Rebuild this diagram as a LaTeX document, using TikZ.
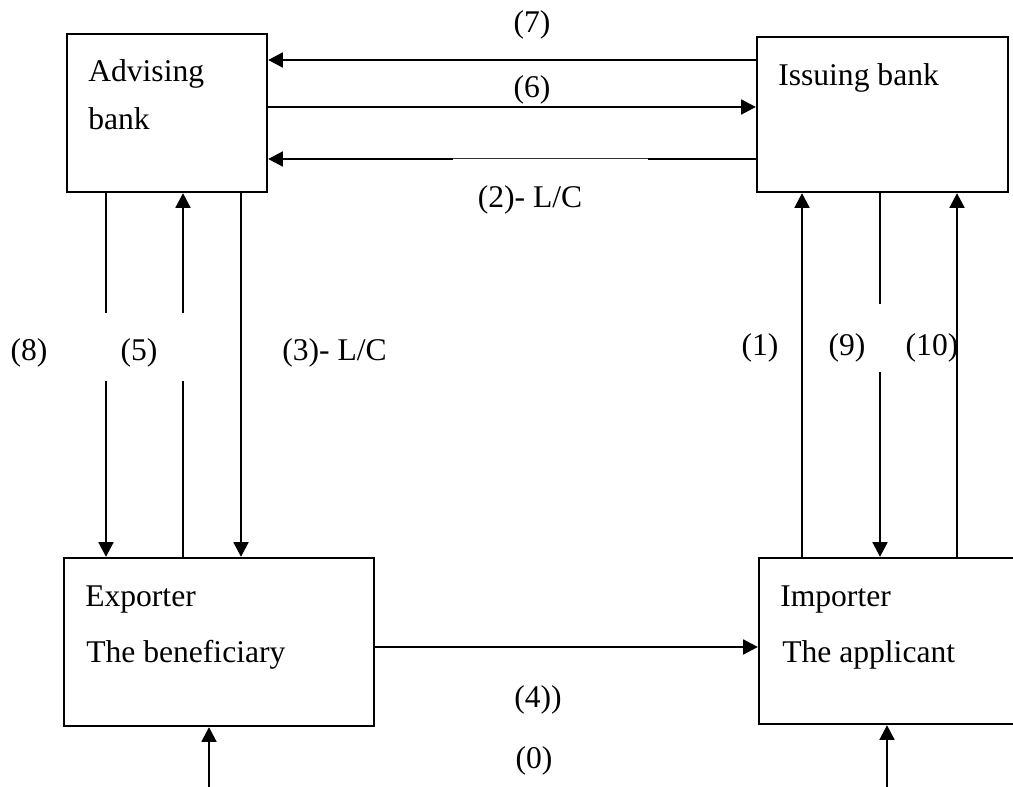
\documentclass[tikz,border=0pt]{standalone}
\usepackage{fontspec}
\setmainfont{Liberation Serif}
\usetikzlibrary{arrows.meta}
\begin{document}
\begin{tikzpicture}[x=0.75pt,y=-0.75pt,
  box/.style={draw, line width=1.7pt, inner sep=0pt},
  txt/.style={inner sep=0pt, font=\fontsize{23.7pt}{28pt}\selectfont},
  conn/.style={line width=2pt},
  thinconn/.style={line width=0.75pt, black!80},
  arr/.style={conn, -{Triangle[width=11pt,length=11pt]}}]
\useasboundingbox (0,0) rectangle (1013,787);
\fill[white] (0,0) rectangle (1013,787);
\clip (0,0) rectangle (1013,787);

% boxes
\node[box, minimum width=150pt, minimum height=118.5pt] (adv) at (167,113) {};
\node[box, minimum width=188.25pt, minimum height=116.25pt] (iss) at (882.5,114.5) {};
\node[box, minimum width=232.5pt, minimum height=126pt] (exp) at (219,642) {};
\node[box, minimum width=210.75pt, minimum height=124.5pt] (imp) at (899.5,641) {};

% box texts
\node[txt, anchor=base west] (tadv1) at (88,82) {Advising};
\node[txt, anchor=base west] (tadv2) at (88,130) {bank};
\node[txt, anchor=base west] (tiss) at (778,86) {Issuing bank};
\node[txt, anchor=base west] (texp1) at (85,606) {Exporter};
\node[txt, anchor=base west] (texp2) at (86,662) {The beneficiary};
\node[txt, anchor=base west] (timp1) at (780,606) {Importer};
\node[txt, anchor=base west] (timp2) at (782,662) {The applicant};

% helper coordinates
\coordinate (y7) at (0,60);
\coordinate (y6) at (0,107);
\coordinate (c2a) at (648,159);
\coordinate (c2b) at (453,159);
\coordinate (g8a) at (106,313);
\coordinate (g8b) at (106,381);
\coordinate (g5a) at (183,313);
\coordinate (g5b) at (183,381);
\coordinate (x3) at (241,0);
\coordinate (x1) at (802,0);
\coordinate (g9a) at (880,304);
\coordinate (g9b) at (880,372);
\coordinate (x10) at (957,0);
\coordinate (y4) at (0,647);
\coordinate (s0a) at (209,787);
\coordinate (s0b) at (887,787);

% horizontal connectors
\draw[arr] (iss.west |- y7) -- (adv.east |- y7);
\draw[arr] (adv.east |- y6) -- (iss.west |- y6);
\draw[conn] (iss.west |- c2a) -- (c2a);
\draw[thinconn] (c2a) -- (c2b);
\draw[arr] (c2b) -- (adv.east |- c2b);
\draw[arr] (exp.east |- y4) -- (imp.west |- y4);

% vertical connectors, left
\draw[conn] (adv.south -| g8a) -- (g8a);
\draw[arr] (g8b) -- (exp.north -| g8b);
\draw[conn] (exp.north -| g5b) -- (g5b);
\draw[arr] (g5a) -- (adv.south -| g5a);
\draw[arr] (adv.south -| x3) -- (exp.north -| x3);

% vertical connectors, right
\draw[arr] (imp.north -| x1) -- (iss.south -| x1);
\draw[conn] (iss.south -| g9a) -- (g9a);
\draw[arr] (g9b) -- (imp.north -| g9b);
\draw[arr] (imp.north -| x10) -- (iss.south -| x10);

% bottom inputs
\draw[arr] (s0a) -- (exp.south -| s0a);
\draw[arr] (s0b) -- (imp.south -| s0b);

% labels
\node[txt] (l7) at (532,25) {(7)};
\node[txt] (l6) at (532,90) {(6)};
\node[txt] (l2) at (530,200) {(2)- L/C};
\node[txt] (l8) at (29,353) {(8)};
\node[txt] (l5) at (139,353) {(5)};
\node[txt, anchor=west] (l3) at (282,353) {(3)- L/C};
\node[txt] (l1) at (760,348) {(1)};
\node[txt] (l9) at (847,348) {(9)};
\node[txt] (l10) at (932,348) {(10)};
\node[txt] (l4) at (538,700) {(4))};
\node[txt] (l0) at (534,761) {(0)};
\end{tikzpicture}
\end{document}
